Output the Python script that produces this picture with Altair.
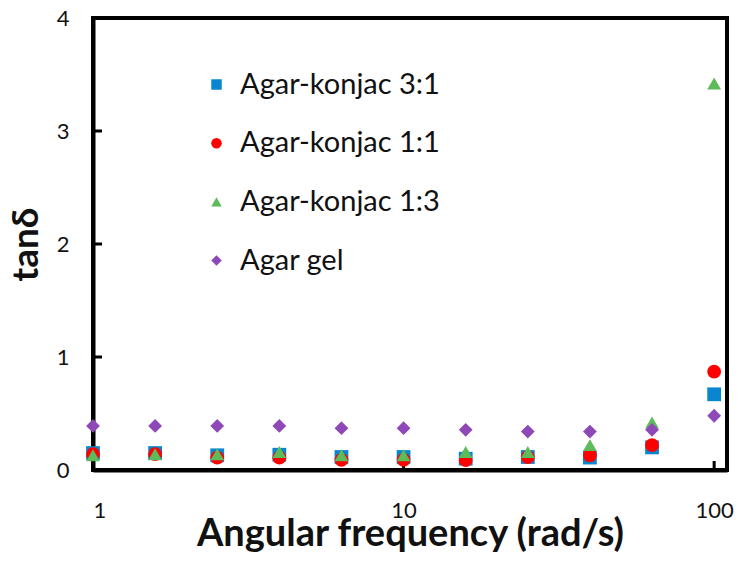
import altair as alt
import pandas as pd

freq = [1, 1.585, 2.512, 3.981, 6.310, 10, 15.85, 25.12, 39.81, 63.10, 100]
s31 = [0.15, 0.15, 0.13, 0.135, 0.115, 0.115, 0.10, 0.115, 0.11, 0.20, 0.67]
s11 = [0.14, 0.14, 0.11, 0.11, 0.09, 0.09, 0.087, 0.115, 0.13, 0.22, 0.87]
s13 = [0.13, 0.14, 0.14, 0.16, 0.13, 0.13, 0.16, 0.16, 0.22, 0.42, 3.42]
gel = [0.39, 0.39, 0.39, 0.39, 0.37, 0.37, 0.356, 0.34, 0.34, 0.356, 0.48]

series = ["Agar-konjac 3:1", "Agar-konjac 1:1", "Agar-konjac 1:3", "Agar gel"]
colors = ["#0A85D0", "#FF0000", "#5DBB5A", "#8E48B8"]
shapes = ["square", "circle", "triangle-up", "diamond"]
x_ticks = [1, 10, 100]
y_ticks = [0, 1, 2, 3, 4]

rows = []
for i, (name, vals) in enumerate(zip(series, [s31, s11, s13, gel])):
    for f, v in zip(freq, vals):
        rows.append({"freq": f, "tan": v, "series": name, "order": i})
df = pd.DataFrame(rows)

W, H = 634, 452
FONT = "Lato"

xscale = alt.Scale(type="log", domain=[1, 110], nice=False)
yscale = alt.Scale(domain=[0, 4], nice=False)

points = alt.Chart(df).mark_point(filled=True, opacity=1, size=190).encode(
    x=alt.X("freq:Q", scale=xscale,
            axis=alt.Axis(values=x_ticks, format="~g", title="Angular frequency (rad/s)",
                          grid=False, domain=True, domainColor="black", domainWidth=4,
                          ticks=False, labelPadding=30,
                          labelFontSize=22, titleFontSize=38, titleFontWeight="bold",
                          titleBaseline="alphabetic", titlePadding=24,
                          labelColor="#111", titleColor="#111")),
    y=alt.Y("tan:Q", scale=yscale,
            axis=alt.Axis(values=y_ticks, format="d", title="tanδ", grid=False,
                          domain=True, domainColor="black", domainWidth=4,
                          ticks=False, labelPadding=24, labelFontSize=22, titleFontSize=37,
                          titleFontWeight="bold", titleBaseline="alphabetic",
                          titlePadding=19, labelColor="#111", titleColor="#111")),
    color=alt.Color("series:N", scale=alt.Scale(domain=series, range=colors),
                    legend=alt.Legend(title=None, orient="none", legendX=109, legendY=52,
                                      labelFontSize=29, symbolSize=110, rowPadding=28.7,
                                      labelOffset=9, padding=0, labelColor="#111",
                                      labelLimit=400)),
    shape=alt.Shape("series:N", scale=alt.Scale(domain=series, range=shapes), legend=None),
    order=alt.Order("order:Q"),
)

xt = alt.Chart(pd.DataFrame({"freq": x_ticks})).mark_rule(color="black", strokeWidth=3).encode(
    x=alt.X("freq:Q", scale=xscale),
    y=alt.value(H),
    y2=alt.value(H - 9),
)
yt = alt.Chart(pd.DataFrame({"tan": y_ticks})).mark_rule(color="black", strokeWidth=3).encode(
    y=alt.Y("tan:Q", scale=yscale),
    x=alt.value(0),
    x2=alt.value(9),
)

chart = alt.layer(xt, yt, points).properties(
    width=W, height=H,
    autosize=alt.AutoSizeParams(type="none"),
    padding={"left": 85, "top": 10, "right": 7, "bottom": 89},
).configure(font=FONT).configure_view(stroke="black", strokeWidth=4)

chart.save("out.html", embed_options={"renderer": "svg", "actions": False})
